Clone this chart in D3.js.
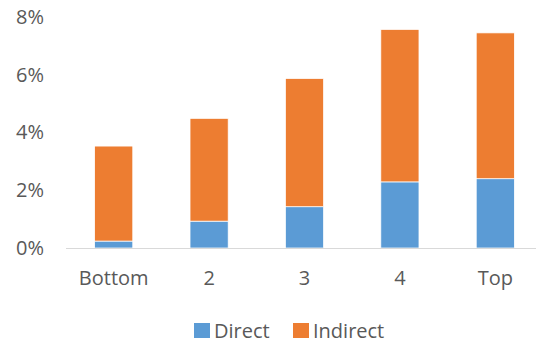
<!DOCTYPE html>
<html>
<head>
<meta charset="utf-8">
<script src="https://cdn.jsdelivr.net/npm/d3@7/dist/d3.min.js"></script>
<style>
  html, body { margin: 0; padding: 0; background: #fff; }
  svg { display: block; }
  text { font-family: "Open Sans", "Noto Sans", sans-serif; fill: #595959; }
</style>
</head>
<body>
<svg id="chart" width="536" height="345"></svg>
<script>
// Share of total, in percent, by group
const categories = ["Bottom", "2", "3", "4", "Top"];
const directValues = [0.24, 0.93, 1.43, 2.29, 2.40];
const indirectValues = [3.29, 3.56, 4.44, 5.28, 5.05];
const yTicks = [0, 2, 4, 6, 8];
const seriesNames = ["Direct", "Indirect"];
const seriesColors = ["#5B9BD5", "#ED7D31"];

const svg = d3.select("#chart");
const W = 536;

const rows = categories.map((c, i) => ({ cat: c, Direct: directValues[i], Indirect: indirectValues[i] }));
const stacked = d3.stack().keys(seriesNames)(rows);

const x = d3.scaleBand()
  .domain(categories)
  .range([66, 543])
  .paddingInner(0.6)
  .paddingOuter(0.3);

const y = d3.scaleLinear().domain([0, 8]).range([248, 17]);

// Y axis labels (no line, no ticks)
const yAxis = svg.append("g")
  .attr("transform", "translate(46,0)")
  .call(d3.axisLeft(y).tickValues(yTicks).tickFormat(d => d + "%").tickSize(0).tickPadding(2));
yAxis.select(".domain").remove();
yAxis.selectAll("text")
  .style("font-size", "20px")
  .style("font-family", "'Open Sans', sans-serif")
  .attr("fill", "#595959");

// Bars
svg.append("g")
  .selectAll("g")
  .data(stacked)
  .join("g")
  .attr("fill", (d, i) => seriesColors[i])
  .selectAll("rect")
  .data(d => d)
  .join("rect")
  .attr("x", d => x(d.data.cat))
  .attr("width", x.bandwidth())
  .attr("y", d => y(d[1]))
  .attr("height", d => y(d[0]) - y(d[1]))
  .attr("stroke", "#fff")
  .attr("stroke-width", 0.75);

// Category axis
const xAxis = svg.append("g")
  .attr("transform", "translate(0,248)")
  .call(d3.axisBottom(x).tickSize(0).tickPadding(23));
xAxis.select(".domain").remove();
svg.append("line")
  .attr("x1", 66).attr("x2", W)
  .attr("y1", 248.5).attr("y2", 248.5)
  .attr("stroke", "#d9d9d9")
  .attr("stroke-width", 1);
xAxis.selectAll("text")
  .style("font-size", "20px")
  .style("font-family", "'Open Sans', sans-serif")
  .attr("fill", "#595959");

// Legend
const legendItems = [
  { name: seriesNames[0], color: seriesColors[0], x: 194 },
  { name: seriesNames[1], color: seriesColors[1], x: 293 }
];
const legend = svg.append("g");
legendItems.forEach(it => {
  legend.append("rect")
    .attr("x", it.x).attr("y", 323)
    .attr("width", 16).attr("height", 15)
    .attr("fill", it.color);
  legend.append("text")
    .attr("x", it.x + 20).attr("y", 338)
    .style("font-size", "20px")
    .text(it.name);
});
</script>
</body>
</html>
